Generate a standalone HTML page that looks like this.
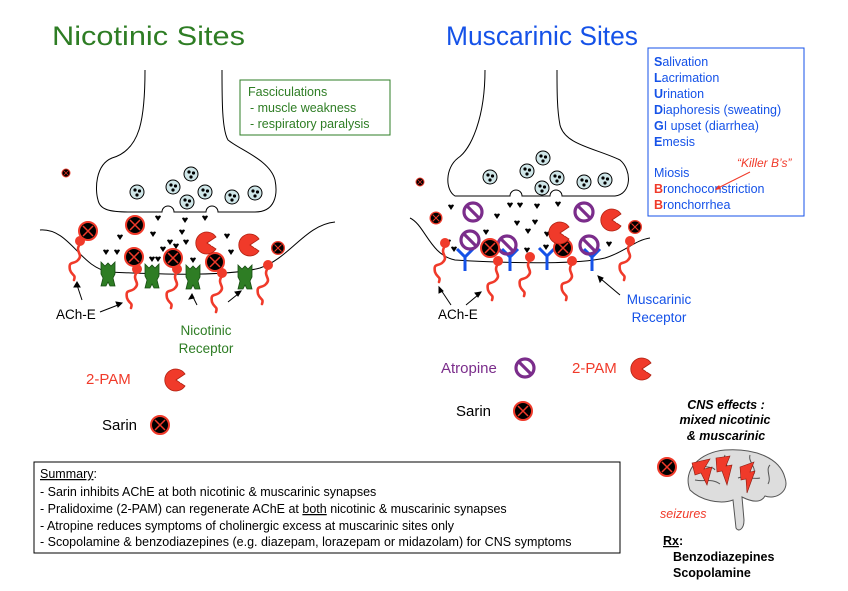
<!DOCTYPE html>
<html><head><meta charset="utf-8"><style>
body{margin:0;background:#fff;width:848px;height:591px;overflow:hidden;font-family:"Liberation Sans",sans-serif}
svg{position:absolute;left:0;top:0}
</style></head><body>
<svg width="848" height="591" viewBox="0 0 848 591" font-family="Liberation Sans, sans-serif">
<defs>
<g id="sar"><circle r="9" fill="#000" stroke="#f03a2a" stroke-width="2"/><path d="M-5,-5L5,5M5,-5L-5,5" stroke="#f03a2a" stroke-width="1.5"/></g>
<g id="pam"><path d="M0,0L9,-6A11,11 0 1 0 9,6Z" fill="#f03a2a" stroke="#b02010" stroke-width="0.8"/><path d="M4,-1l3,2l-3,2z" fill="#fff"/></g>
<g id="ves"><circle r="7" fill="#cfe6e8" stroke="#000" stroke-width="1"/><circle cx="-2" cy="-2" r="1.6"/><circle cx="2.5" cy="-1" r="1.6"/><circle cx="0" cy="3" r="1.6"/></g>
<g id="ache" fill="none" stroke="#f03a2a" stroke-width="2.6" stroke-linecap="round"><path d="M0,0c-6,8 4,10 -2,16c-4,5 -10,0 -8,10c2,6 6,4 4,10"/><circle cx="0" cy="-3" r="5" fill="#f03a2a" stroke="none"/></g>
<g id="nic"><path d="M-7,-10l4,4l3,-3l3,3l4,-4v12l-2,4l2,8h-5l-2,-4l-2,4h-5l2,-8l-2,-4z" fill="#2e7d24" stroke="#174d12" stroke-width="0.8"/></g>
<g id="mus" stroke="#1552e8" stroke-width="3" fill="none"><path d="M-8,-8L0,0L8,-8M0,0V14"/></g>
<g id="atr"><circle r="9" fill="none" stroke="#7b2d8b" stroke-width="3.2"/><path d="M-6,-6L6,6" stroke="#7b2d8b" stroke-width="3.2"/></g>
<path id="dot" d="M-3,-2.5a1.6,1.6 0 0 1 3,0a1.6,1.6 0 0 1 3,0l-3,4.5z" fill="#000"/>
</defs>

<text x="52" y="45" font-size="27" fill="#2e7d24" textLength="193" lengthAdjust="spacingAndGlyphs">Nicotinic Sites</text>
<text x="446" y="45" font-size="27" fill="#1552e8" textLength="192" lengthAdjust="spacingAndGlyphs">Muscarinic Sites</text>

<rect x="240" y="80" width="150" height="55" fill="none" stroke="#2e7d24"/>
<text font-size="12.5" fill="#2e7d24"><tspan x="248" y="96">Fasciculations</tspan><tspan x="250" y="112">- muscle weakness</tspan><tspan x="250" y="128">- respiratory paralysis</tspan></text>

<path d="M145,70C145,120 140,150 112,158C95,165 95,190 98,200C100,210 110,212 130,212H162A6,6 0 0 1 174,212H206A6,6 0 0 1 218,212H255C275,212 278,195 275,180C270,160 240,150 228,140C222,130 222,100 222,70" fill="none" stroke="#000" stroke-width="1"/>
<path d="M40,230C70,228 80,268 110,272C170,275 230,276 260,268C290,258 305,225 335,222" fill="none" stroke="#000" stroke-width="1"/>
<path d="M485,70C485,120 470,150 458,158C445,168 445,190 455,196H510A6,6 0 0 1 522,196H550A6,6 0 0 1 562,196H615C632,194 632,170 620,160C595,148 565,145 560,125C557,110 557,90 557,70" fill="none" stroke="#000" stroke-width="1"/>
<path d="M410,218C425,225 430,255 455,260C520,264 580,264 605,258C625,252 635,240 650,238" fill="none" stroke="#000" stroke-width="1"/>

<g>
<use href="#ves" x="137" y="192"/><use href="#ves" x="173" y="187"/><use href="#ves" x="191" y="174"/><use href="#ves" x="187" y="202"/><use href="#ves" x="205" y="192"/><use href="#ves" x="232" y="197"/><use href="#ves" x="255" y="193"/>
<use href="#ves" x="490" y="177"/><use href="#ves" x="527" y="171"/><use href="#ves" x="543" y="158"/><use href="#ves" x="557" y="178"/><use href="#ves" x="542" y="188"/><use href="#ves" x="584" y="182"/><use href="#ves" x="605" y="180"/>
</g>
<g>
<use href="#dot" x="158" y="219"/><use href="#dot" x="185" y="221"/><use href="#dot" x="205" y="219"/><use href="#dot" x="120" y="238"/><use href="#dot" x="153" y="235"/><use href="#dot" x="182" y="233"/><use href="#dot" x="170" y="243"/><use href="#dot" x="176" y="247"/><use href="#dot" x="186" y="243"/><use href="#dot" x="163" y="250"/><use href="#dot" x="227" y="237"/><use href="#dot" x="231" y="253"/><use href="#dot" x="106" y="253"/><use href="#dot" x="117" y="253"/><use href="#dot" x="152" y="260"/><use href="#dot" x="158" y="260"/><use href="#dot" x="193" y="261"/>
<use href="#dot" x="451" y="208"/><use href="#dot" x="510" y="206"/><use href="#dot" x="520" y="206"/><use href="#dot" x="537" y="207"/><use href="#dot" x="558" y="205"/><use href="#dot" x="497" y="217"/><use href="#dot" x="535" y="223"/><use href="#dot" x="517" y="224"/><use href="#dot" x="486" y="233"/><use href="#dot" x="528" y="232"/><use href="#dot" x="547" y="235"/><use href="#dot" x="448" y="243"/><use href="#dot" x="454" y="250"/><use href="#dot" x="527" y="251"/><use href="#dot" x="546" y="248"/><use href="#dot" x="609" y="245"/>
</g>
<use href="#nic" x="108" y="272"/><use href="#nic" x="152" y="274"/><use href="#nic" x="193" y="275"/><use href="#nic" x="245" y="275"/>
<use href="#ache" x="80" y="244"/><use href="#ache" x="137" y="272"/><use href="#ache" x="177" y="272"/><use href="#ache" x="222" y="276"/><use href="#ache" x="268" y="268"/>
<use href="#sar" x="88" y="231"/><use href="#sar" x="135" y="225"/><use href="#sar" x="134" y="257"/><use href="#sar" x="173" y="258"/><use href="#sar" x="215" y="262"/>
<g transform="translate(66,173) scale(0.45)"><use href="#sar"/></g>
<use href="#pam" x="207" y="243"/><use href="#pam" x="250" y="245"/>
<g transform="translate(278,248) scale(0.7)"><use href="#sar"/></g>
<use href="#mus" x="465" y="257"/><use href="#mus" x="510" y="257"/><use href="#mus" x="547" y="256"/><use href="#mus" x="592" y="257"/>
<use href="#ache" x="445" y="246"/><use href="#ache" x="498" y="264"/><use href="#ache" x="530" y="260"/><use href="#ache" x="572" y="264"/><use href="#ache" x="630" y="244"/>
<use href="#atr" x="473" y="212"/><use href="#atr" x="584" y="212"/><use href="#atr" x="470" y="240"/><use href="#atr" x="507" y="245"/><use href="#atr" x="589" y="245"/>
<use href="#sar" x="490" y="248"/><use href="#sar" x="563" y="248"/>
<g transform="translate(420,182) scale(0.45)"><use href="#sar"/></g><g transform="translate(436,218) scale(0.65)"><use href="#sar"/></g>
<use href="#pam" x="560" y="233"/><use href="#pam" x="612" y="220"/>
<g transform="translate(635,227) scale(0.7)"><use href="#sar"/></g>

<g stroke="#000" stroke-width="1" fill="#000">
<path d="M82,300L77,285"/><path d="M77,282l-3,5h6z"/>
<path d="M100,312L118,305"/><path d="M122,303l-6,-1l2,5z"/>
<path d="M197,305L193,297"/><path d="M192,294l-3,5l5,-1z"/>
<path d="M228,302L238,294"/><path d="M241,291l-6,1l3,4z"/>
<path d="M451,305L441,290"/><path d="M439,287l0,6l4,-2z"/>
<path d="M466,305L478,295"/><path d="M481,292l-6,1l3,4z"/>
<path d="M620,295L601,279"/><path d="M598,276l2,6l3,-4z"/>
</g>
<text font-size="13.5"><tspan x="56" y="319">ACh-E</tspan><tspan x="438" y="319">ACh-E</tspan></text>
<text font-size="13.5" fill="#2e7d24" text-anchor="middle"><tspan x="206" y="335">Nicotinic</tspan><tspan x="206" y="353">Receptor</tspan></text>
<text font-size="13.5" fill="#1552e8" text-anchor="middle"><tspan x="659" y="304">Muscarinic</tspan><tspan x="659" y="322">Receptor</tspan></text>

<text x="86" y="384" font-size="15" fill="#f03a2a">2-PAM</text><use href="#pam" x="176" y="380"/>
<text x="102" y="430" font-size="15">Sarin</text><use href="#sar" x="160" y="425"/>
<text x="441" y="373" font-size="15" fill="#7b2d8b">Atropine</text><use href="#atr" x="525" y="368"/>
<text x="572" y="373" font-size="15" fill="#f03a2a">2-PAM</text><use href="#pam" x="642" y="369"/>
<text x="456" y="416" font-size="15">Sarin</text><use href="#sar" x="523" y="411"/>

<rect x="648" y="48" width="156" height="168" fill="none" stroke="#1552e8"/>
<text font-size="12.5" fill="#1552e8">
<tspan x="654" y="66"><tspan font-weight="bold">S</tspan>alivation</tspan>
<tspan x="654" y="82"><tspan font-weight="bold">L</tspan>acrimation</tspan>
<tspan x="654" y="98"><tspan font-weight="bold">U</tspan>rination</tspan>
<tspan x="654" y="114"><tspan font-weight="bold">D</tspan>iaphoresis (sweating)</tspan>
<tspan x="654" y="130"><tspan font-weight="bold">G</tspan>I upset (diarrhea)</tspan>
<tspan x="654" y="146"><tspan font-weight="bold">E</tspan>mesis</tspan>
<tspan x="654" y="177">Miosis</tspan>
<tspan x="654" y="193"><tspan font-weight="bold" fill="#f03a2a">B</tspan>ronchoconstriction</tspan>
<tspan x="654" y="209"><tspan font-weight="bold" fill="#f03a2a">B</tspan>ronchorrhea</tspan>
</text>
<text x="737" y="167" font-size="12" font-style="italic" fill="#f03a2a">“Killer B’s”</text>
<path d="M750,172L718,188" stroke="#f03a2a" stroke-width="1"/><path d="M715,190l6,-1l-2,-4z" fill="#f03a2a"/>

<text font-size="12.5" font-weight="bold" font-style="italic" text-anchor="middle"><tspan x="726" y="409">CNS effects :</tspan><tspan x="725" y="424">mixed nicotinic</tspan><tspan x="726" y="440">&amp; muscarinic</tspan></text>
<use href="#sar" x="667" y="467"/>
<path d="M690,490C682,470 700,452 725,450C755,448 780,458 785,478C790,492 775,500 765,496C760,505 748,500 742,497L744,520C744,530 738,532 736,528L733,500C720,505 700,500 690,490Z" fill="#ddd" stroke="#555" stroke-width="1"/>
<path d="M700,462C705,470 712,465 715,470M725,455C722,462 730,466 728,472M750,455C748,462 756,466 754,474M770,465C765,470 772,478 768,484M695,480C705,482 712,478 720,484M738,478C745,475 752,480 760,478" fill="none" stroke="#555" stroke-width="1"/>
<g fill="#f03a2a" stroke="#8a1a10" stroke-width="0.6">
<path d="M692,463l18,-4l-6,10l8,-2l-5,18l-6,-12l-6,2z"/>
<path d="M716,458l14,-2l-4,10l6,-1l-5,20l-5,-14l-5,1z"/>
<path d="M740,467l14,-5l-4,10l5,-1l-8,22l-1,-14l-5,1z"/>
</g>
<text x="660" y="518" font-size="12.5" font-style="italic" fill="#f03a2a">seizures</text>
<text x="663" y="545" font-size="12.5" font-weight="bold"><tspan text-decoration="underline">Rx</tspan>:</text>
<text font-size="12.5" font-weight="bold"><tspan x="673" y="561">Benzodiazepines</tspan><tspan x="673" y="577">Scopolamine</tspan></text>

<rect x="34" y="462" width="586" height="91" fill="none" stroke="#000"/>
<text font-size="12.5">
<tspan x="40" y="478"><tspan text-decoration="underline">Summary</tspan>:</tspan>
<tspan x="40" y="496">- Sarin inhibits AChE at both nicotinic &amp; muscarinic synapses</tspan>
<tspan x="40" y="513">- Pralidoxime (2-PAM) can regenerate AChE at <tspan text-decoration="underline">both</tspan> nicotinic &amp; muscarinic synapses</tspan>
<tspan x="40" y="530">- Atropine reduces symptoms of cholinergic excess at muscarinic sites only</tspan>
<tspan x="40" y="546">- Scopolamine &amp; benzodiazepines (e.g. diazepam, lorazepam or midazolam) for CNS symptoms</tspan>
</text>
</svg>
</body></html>
